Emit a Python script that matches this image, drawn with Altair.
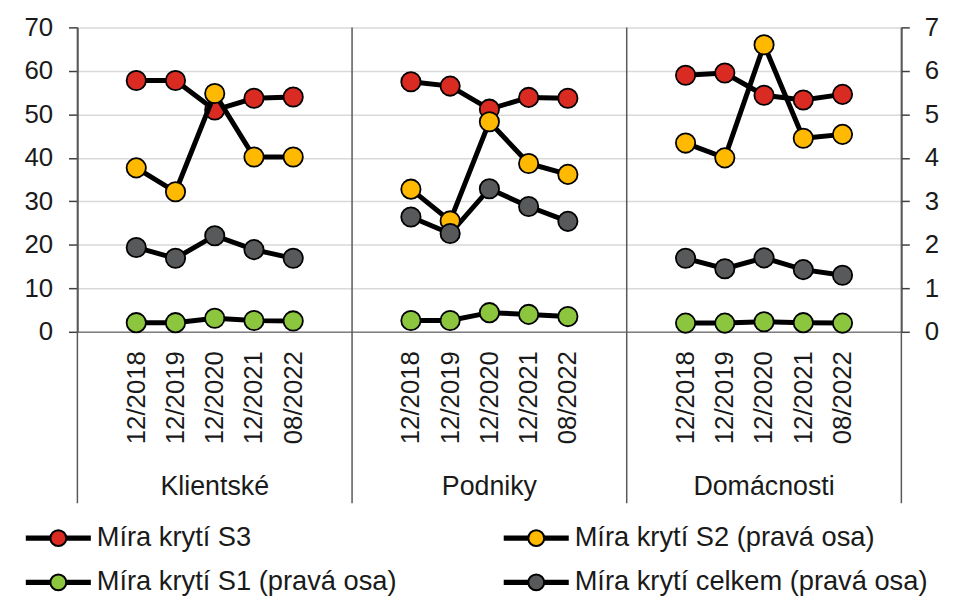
import altair as alt
import pandas as pd

groups = ["Klientské", "Podniky", "Domácnosti"]
dates = ["12/2018", "12/2019", "12/2020", "12/2021", "08/2022"]
series_names = [
    "Míra krytí S3",
    "Míra krytí S2 (pravá osa)",
    "Míra krytí S1 (pravá osa)",
    "Míra krytí celkem (pravá osa)",
]
series_colors = ["#d92b22", "#ffb900", "#8cc63e", "#58595b"]
# legend is filled column by column: S3, S1 | S2, celkem
legend_order = [series_names[0], series_names[2], series_names[1], series_names[3]]
legend_colors = [series_colors[0], series_colors[2], series_colors[1], series_colors[3]]

# left axis (S3)
s3_klientske = [57.8, 57.8, 51.0, 53.7, 54.0]
s3_podniky = [57.5, 56.5, 51.2, 53.9, 53.7]
s3_domacnosti = [59.0, 59.5, 54.4, 53.3, 54.6]
# right axis
s2_klientske = [3.77, 3.22, 5.48, 4.02, 4.02]
s2_podniky = [3.28, 2.55, 4.83, 3.87, 3.62]
s2_domacnosti = [4.34, 4.00, 6.60, 4.45, 4.54]
s1_klientske = [0.21, 0.21, 0.31, 0.26, 0.25]
s1_podniky = [0.26, 0.26, 0.44, 0.40, 0.35]
s1_domacnosti = [0.20, 0.20, 0.23, 0.21, 0.20]
celkem_klientske = [1.94, 1.69, 2.21, 1.89, 1.69]
celkem_podniky = [2.64, 2.26, 3.29, 2.88, 2.54]
celkem_domacnosti = [1.69, 1.45, 1.70, 1.43, 1.30]

series_values = {
    series_names[0]: [s3_klientske, s3_podniky, s3_domacnosti],
    series_names[1]: [s2_klientske, s2_podniky, s2_domacnosti],
    series_names[2]: [s1_klientske, s1_podniky, s1_domacnosti],
    series_names[3]: [celkem_klientske, celkem_podniky, celkem_domacnosti],
}

slots = len(dates) + 2  # one empty slot on each side of a group
rows = []
for s in series_names:
    for gi, g in enumerate(groups):
        for di, d in enumerate(dates):
            rows.append({"series": s, "group": g, "date": d,
                         "pos": gi * slots + di + 1,
                         "value": series_values[s][gi][di]})
df = pd.DataFrame(rows)
df_left = df[df.series == series_names[0]]
df_right = df[df.series != series_names[0]]

tick_pos = [gi * slots + di + 1 for gi in range(len(groups)) for di in range(len(dates))]
date_js = "[" + ",".join("'%s'" % d for d in dates) + "]"
label_expr = f"{date_js}[(datum.value % {slots}) - 1]"

sep_df = pd.DataFrame({"sep": [gi * slots - 0.5 for gi in range(len(groups) + 1)]})
grp_df = pd.DataFrame({"group": groups,
                       "c": [gi * slots + (slots - 1) / 2 for gi in range(len(groups))]})

FONT = "Liberation Sans"
TXT = "#1a1a1a"
xscale = alt.Scale(domain=[-0.5, len(groups) * slots - 0.5], nice=False, zero=False)
xaxis = alt.Axis(values=tick_pos, labelExpr=label_expr, labelAngle=270,
                 labelFontSize=26, labelPadding=19, ticks=False, domain=True,
                 domainColor="#808080", domainWidth=1.5, grid=False, title=None,
                 labelOverlap=False, labelFlush=False, labelColor=TXT, labelFont=FONT)

legend_path = ("M-4.1,-0.2L-1,-0.2M-4.1,0L-1,0M-4.1,0.2L-1,0.2"
               "M1,-0.2L4.1,-0.2M1,0L4.1,0M1,0.2L4.1,0.2"
               "M-1,0A1,1,0,1,1,1,0A1,1,0,1,1,-1,0Z")
legend = alt.Legend(orient="none", legendX=-33, legendY=501, columns=2,
                    columnPadding=102, rowPadding=16, symbolType=legend_path,
                    symbolSize=256, symbolStrokeColor="black", symbolStrokeWidth=2,
                    symbolOpacity=1, labelFontSize=27.5, labelOffset=25, labelLimit=700,
                    labelFont=FONT, labelColor=TXT, title=None, symbolOffset=0,
                    padding=0)
fill = alt.Fill("series:N", scale=alt.Scale(domain=legend_order, range=legend_colors),
                legend=legend)

x_enc = alt.X("pos:Q", scale=xscale, axis=xaxis)

yleft = alt.Y("value:Q", scale=alt.Scale(domain=[0, 70], nice=False),
              axis=alt.Axis(values=list(range(0, 71, 10)), orient="left",
                            labelFontSize=26, labelFont=FONT, labelColor=TXT,
                            tickSize=9, tickColor="#404040", tickWidth=1.5,
                            domainColor="#404040", domainWidth=1.5,
                            grid=True, gridColor="#d9d9d9", gridWidth=1.5,
                            labelPadding=16, title=None))
yright = alt.Y("value:Q", scale=alt.Scale(domain=[0, 7], nice=False),
               axis=alt.Axis(values=list(range(0, 8)), orient="right",
                             labelFontSize=26, labelFont=FONT, labelColor=TXT,
                             tickSize=8, tickColor="#404040", tickWidth=1.5,
                             domainColor="#404040", domainWidth=1.5,
                             grid=False, labelPadding=15, title=None))

seps = alt.Chart(sep_df).mark_rule(color="#595959", strokeWidth=1.5).encode(
    x=alt.X("sep:Q", scale=xscale, axis=xaxis), y=alt.value(0), y2=alt.value(480))
grp_text = alt.Chart(grp_df).mark_text(fontSize=27, font=FONT, color=TXT,
                                       baseline="alphabetic", align="center").encode(
    x=alt.X("c:Q", scale=xscale, axis=xaxis), y=alt.value(472), text="group:N")

line_l = alt.Chart(df_left).mark_line(color="black", strokeWidth=5).encode(
    x=x_enc, y=yleft, detail="group:N", order="pos:Q")
pts_l = alt.Chart(df_left).mark_point(shape="circle", filled=True, size=380,
                                      stroke="black", strokeWidth=1.8, opacity=1).encode(
    x=x_enc, y=yleft, fill=fill)
left = alt.layer(seps, grp_text, line_l, pts_l)

line_r = alt.Chart(df_right).mark_line(color="black", strokeWidth=5).encode(
    x=x_enc, y=yright, detail=["series:N", "group:N"], order="pos:Q")
pts_r = alt.Chart(df_right).mark_point(shape="circle", filled=True, size=380,
                                       stroke="black", strokeWidth=1.8, opacity=1).encode(
    x=x_enc, y=yright, fill=fill)
right = alt.layer(line_r, pts_r)

chart = alt.layer(left, right).resolve_scale(y="independent").properties(
    width=831, height=307,
    autosize=alt.AutoSizeParams(type="none"),
    padding={"left": 70, "top": 17, "right": 44, "bottom": 276},
    background="white",
).configure_view(stroke=None)

chart.save("out.html", embed_options={"renderer": "svg", "actions": False})
